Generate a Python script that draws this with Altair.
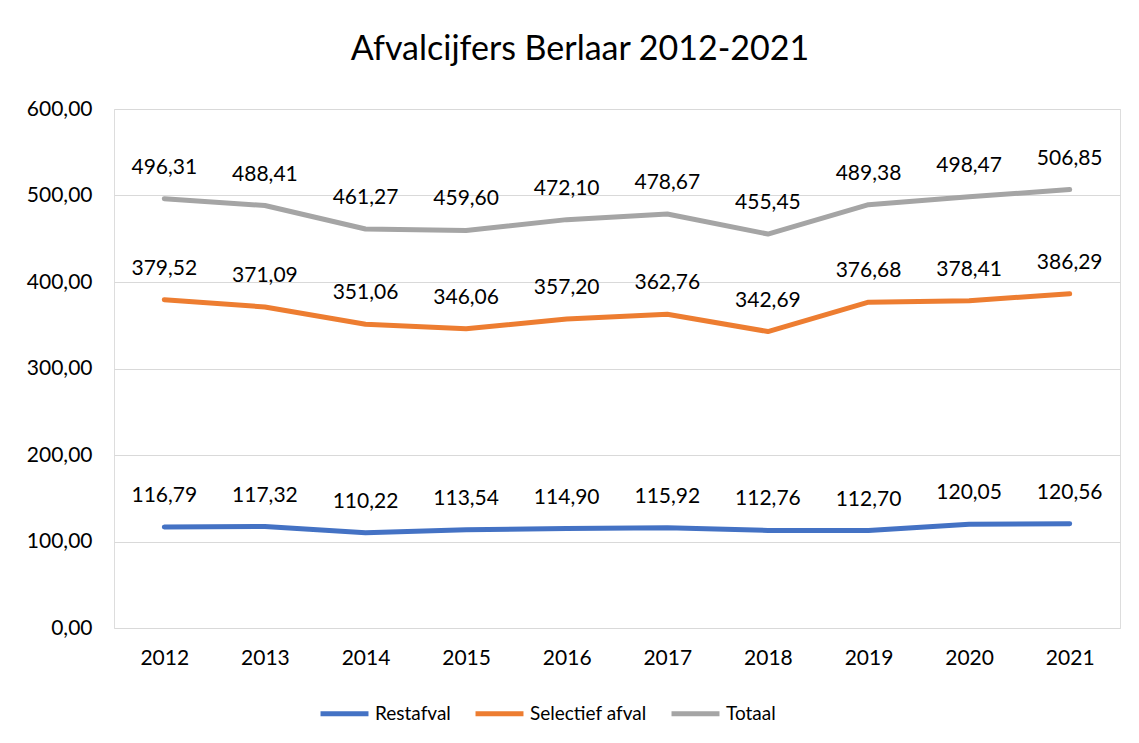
import altair as alt
import pandas as pd

years = ["2012", "2013", "2014", "2015", "2016", "2017", "2018", "2019", "2020", "2021"]
restafval = [116.79, 117.32, 110.22, 113.54, 114.90, 115.92, 112.76, 112.70, 120.05, 120.56]
selectief = [379.52, 371.09, 351.06, 346.06, 357.20, 362.76, 342.69, 376.68, 378.41, 386.29]
totaal = [496.31, 488.41, 461.27, 459.60, 472.10, 478.67, 455.45, 489.38, 498.47, 506.85]
series_names = ["Restafval", "Selectief afval", "Totaal"]
series_colors = ["#4472C4", "#ED7D31", "#A5A5A5"]

rows = []
for name, vals in zip(series_names, [restafval, selectief, totaal]):
    for y, v in zip(years, vals):
        rows.append({"Jaar": y, "Reeks": name, "Waarde": v,
                     "Label": f"{v:.2f}".replace(".", ",")})
df = pd.DataFrame(rows)

FONT = "Lato"

x_enc = alt.X("Jaar:O", scale=alt.Scale(type="point", padding=0.5),
              axis=alt.Axis(title=None, labelAngle=0, labelFontSize=21, labelColor="#000000",
                            labelPadding=19, ticks=False, domain=False, labelFont=FONT))
y_enc = alt.Y("Waarde:Q", scale=alt.Scale(domain=[0, 600], nice=False),
              axis=alt.Axis(title=None, values=[0, 100, 200, 300, 400, 500, 600],
                            labelExpr="replace(format(datum.value, '.2f'), '.', ',')",
                            labelFontSize=21, labelColor="#000000", labelPadding=22,
                            ticks=False, domain=False, gridColor="#d9d9d9", gridWidth=1.2,
                            labelFont=FONT))
color_enc = alt.Color("Reeks:N",
                      scale=alt.Scale(domain=series_names, range=series_colors),
                      legend=alt.Legend(title=None, orient="none", direction="horizontal",
                                        legendX=204, legendY=578, symbolType="stroke",
                                        symbolStrokeWidth=5, symbolSize=2300,
                                        labelFontSize=19, labelFont=FONT, labelColor="#000000",
                                        columnPadding=14, labelOffset=4, padding=0))

base = alt.Chart(df)
lines = base.mark_line(strokeWidth=5, strokeCap="round", strokeJoin="round").encode(
    x=x_enc, y=y_enc, color=color_enc)
labels = base.mark_text(fontSize=21, font=FONT, color="#000000", dy=-31, baseline="middle").encode(
    x="Jaar:O", y="Waarde:Q", text="Label:N")

chart = alt.layer(lines, labels).properties(
    width=1006, height=519,
    title=alt.TitleParams("Afvalcijfers Berlaar 2012-2021", fontSize=34, font=FONT,
                          fontWeight="normal", color="#000000", anchor="middle",
                          dx=-37, offset=31),
    autosize=alt.AutoSizeParams(type="none"),
    padding={"left": 106, "top": 101, "right": 10, "bottom": 125},
).configure_view(stroke=None).configure(background="#ffffff")

chart.save("out.html", embed_options={"renderer": "svg", "actions": False})
